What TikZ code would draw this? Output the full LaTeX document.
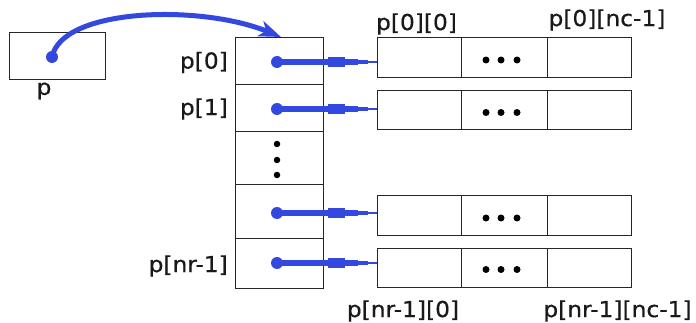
\documentclass[tikz,border=0pt]{standalone}
\usepackage{fontspec}
\setmainfont{DejaVu Sans}[FakeStretch=1.06,FakeBold=0.5]
\usetikzlibrary{arrows.meta,calc}
\definecolor{ptrblue}{RGB}{50,72,222}
\begin{document}
\begin{tikzpicture}[x=1pt,y=-1pt,
  cell/.style={draw=black!85,line width=1pt,rectangle,inner sep=0pt,outer sep=0pt},
  lbl/.style={inner sep=0pt,font=\fontsize{22}{24}\selectfont,text=black!90},
  bdot/.style={circle,fill=black,inner sep=0pt,minimum size=7pt},
  pdot/.style={circle,fill=ptrblue,inner sep=0pt,minimum size=12pt},
  thickp/.style={draw=ptrblue,line width=5.5pt},
]
\useasboundingbox (0,0) rectangle (696,323);
% variable p
\node[cell,minimum width=96pt,minimum height=47pt] (pbox) at (57,56.5) {};
\node[lbl] (plbl) at (44,91) {p};
% column of pointers
\node[cell,minimum width=88pt,minimum height=47pt] (c0) at (279,61.5) {};
\node[cell,minimum width=88pt,minimum height=47pt] (c1) at (279,108.5) {};
\node[cell,minimum width=88pt,minimum height=53pt] (c2) at (279,158.5) {};
\node[cell,minimum width=88pt,minimum height=54pt] (c3) at (279,212) {};
\node[cell,minimum width=88pt,minimum height=49pt] (c4) at (279,263.5) {};
\node[lbl,anchor=east] (l0) at (228,62.5) {p[0]};
\node[lbl,anchor=east] (l1) at (228,109) {p[1]};
\node[lbl,anchor=east] (l4) at (228,266) {p[nr-1]};
\node[bdot,minimum size=6.5pt] (vd1) at (277,144) {};
\node[bdot,minimum size=6.5pt] (vd2) at (277,160) {};
\node[bdot,minimum size=6.5pt] (vd3) at (277,175) {};
% row arrays
\foreach \r/\y/\h in {0/58/40,1/110.5/39,3/216/40,4/267.5/39}{
  \node[cell,minimum width=84pt,minimum height=\h pt] (r\r a) at (419,\y) {};
  \node[cell,minimum width=86pt,minimum height=\h pt] (r\r b) at (504,\y) {};
  \node[cell,minimum width=84pt,minimum height=\h pt] (r\r c) at (589,\y) {};
  \node[bdot] (r\r d1) at (486,\y+2) {};
  \node[bdot] (r\r d2) at (501,\y+2) {};
  \node[bdot] (r\r d3) at (517,\y+2) {};
}
\node[lbl] (t00) at (416.5,24) {p[0][0]};
\node[lbl] (t0n) at (607,20) {p[0][nc-1]};
\node[lbl] (tn0) at (403,311) {p[nr-1][0]};
\node[lbl] (tnn) at (617.5,311) {p[nr-1][nc-1]};
% pointer arrows
\foreach \r/\c/\y in {0/c0/62,1/c1/109,3/c3/213,4/c4/263}{
  \node[pdot] (s\r) at (277,\y) {};
  \coordinate (e\r) at (s\r -| r\r a.west);
  \draw[thickp] (s\r.center) -- ($(s\r.center)+(51,0)$);
  \fill[ptrblue] ($(s\r.center)+(51,-5)$) rectangle ($(s\r.center)+(68,5)$);
  \draw[draw=ptrblue,line width=6.5pt] ($(s\r.center)+(68,0)$) -- ($(s\r.center)+(81,0)$);
  \draw[draw=ptrblue,line width=4pt] ($(s\r.center)+(81,0)$) -- ($(s\r.center)+(91,0)$);
  \draw[draw=ptrblue,line width=1.4pt] ($(s\r.center)+(91,0)$) -- (e\r);
}
% curved arrow from p to column
\node[pdot] (ps) at (52,57) {};
\coordinate (ptip) at (281,37);
\draw[draw=ptrblue,line width=5pt,-{Stealth[length=22pt,width=16pt,inset=6pt]}]
  (ps.center) .. controls (62,8) and (200,4) .. (ptip);
\end{tikzpicture}
\end{document}
